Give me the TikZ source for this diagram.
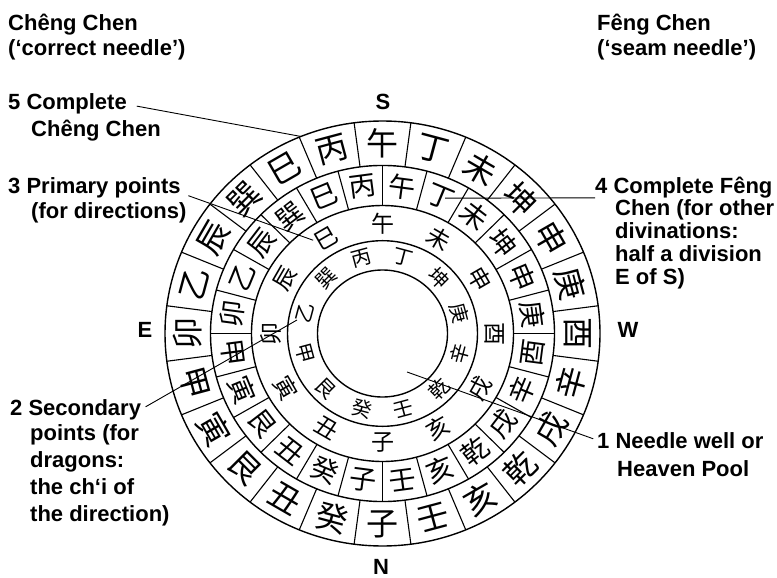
\documentclass[tikz,border=0pt]{standalone}
\usepackage{fontspec}
\setmainfont{Liberation Sans}
\newfontfamily\cjk{Noto Sans CJK TC}
\usepackage{tikz}
\usetikzlibrary{positioning}

\newcommand{\lblfont}{\fontsize{22}{25}\selectfont\bfseries}

\tikzset{
  lbl/.style={font=\lblfont, inner sep=0pt, anchor=base west},
  lblblock/.style={font=\lblfont, inner sep=0pt, anchor=north west, align=left},
  compass/.style={font=\lblfont, inner sep=0pt},
  ring/.style={line width=1.4pt},
  divline/.style={line width=1.1pt},
  leader/.style={line width=0.9pt, shorten <=#1},
  leader/.default=0pt,
  outerch/.style={font=\cjk\fontsize{32}{32}\selectfont, inner sep=0pt},
  midch/.style={font=\cjk\fontsize{27}{27}\selectfont, inner sep=0pt},
  primch/.style={font=\cjk\fontsize{23}{23}\selectfont, inner sep=0pt},
  secch/.style={font=\cjk\fontsize{20}{20}\selectfont, inner sep=0pt}
}

\begin{document}
\begin{tikzpicture}[x=1pt,y=-1pt]
    \useasboundingbox (0,0) rectangle (777,578);
    \begin{scope}[shift={(382.5,333.5)},yscale=0.977]
        \draw[ring] (0,0) circle (65) (0,0) circle (95) (0,0) circle (131)
                    (0,0) circle (172) (0,0) circle (217.5);
        \foreach \i in {0,...,23}{
            \draw[divline] ({-(7.5+15*\i)}:172) -- ({-(7.5+15*\i)}:217.5);
            \draw[divline] ({-15*\i}:131) -- ({-15*\i}:172);
        }
        % the 24 points, counterclockwise from S
        \foreach \ch [count=\k from 0] in {午,丙,巳,巽,辰,乙,卯,甲,寅,艮,丑,癸,子,壬,亥,乾,戌,辛,酉,庚,申,坤,未,丁}{
            \pgfmathsetmacro\a{90+15*\k}
            \pgfmathsetmacro\b{\a-7.5}
            \pgfmathsetmacro\ra{ifthenelse(mod(\a,360)<180.1,\a-90,\a+90)}
            \pgfmathsetmacro\rb{ifthenelse(mod(\b,360)<180.1,\b-90,\b+90)}
            \node[outerch, rotate=\ra] (out\k) at ({-\a}:195) {\ch};
            \node[midch, rotate=\rb] (mid\k) at ({-\b}:151.5) {\ch};
            \ifodd\k
                \node[secch, rotate=\ra] (sec\k) at ({-\a}:80) {\ch};
            \else
                \node[primch, rotate=\ra] (prim\k) at ({-\a}:112) {\ch};
            \fi
        }
        \coordinate (p5) at (-112:217.5);
        \coordinate (p3) at (-126:118);
        \coordinate (p4) at (-65.7:152);
        \coordinate (p2) at (-170.8:86.6);
        \coordinate (p1) at (58.1:46.4);
    \end{scope}

    \node[compass] (S) at (383,102) {S};
    \node[compass] (N) at (381,567) {N};
    \node[compass] (E) at (145,330) {E};
    \node[compass] (W) at (628,330) {W};

    \node[lblblock] (hdrL) at (8,14) {Chêng Chen\\(‘correct needle’)};
    \node[lblblock] (hdrR) at (597,14) {Fêng Chen\\(‘seam needle’)};

    \node[lbl] (lab5) at (8,110) {5 Complete};
    \node[lbl] (lab5b) at (31,136) {Chêng Chen};
    \node[lbl] (lab3) at (8,193) {3 Primary points};
    \node[lbl] (lab3b) at (31,218) {(for directions)};
    \node[lbl] (lab4) at (595,193) {4 Complete Fêng};
    \node[lblblock, font=\fontsize{22}{23}\selectfont\bfseries] (lab4b) at (615,199)
        {Chen (for other\\divinations:\\half a division\\E of S)};
    \node[lbl] (lab2) at (10,415) {2 Secondary};
    \node[lblblock, font=\fontsize{22}{27}\selectfont\bfseries] (lab2b) at (30,424)
        {points (for\\dragons:\\the ch‘i of\\the direction)};
    \node[lbl] (lab1) at (597,448) {1 Needle well or};
    \node[lbl] (lab1b) at (617,476) {Heaven Pool};

    \draw[leader=10pt] (lab5.east) -- (p5);
    \draw[leader=8pt] (lab3.base east) -- (p3);
    \draw[leader] (lab4.south west) -- (p4);
    \draw[leader=5pt] (lab2.east) -- (p2);
    \draw[leader=4pt] (lab1.west) -- (p1);
\end{tikzpicture}
\end{document}
